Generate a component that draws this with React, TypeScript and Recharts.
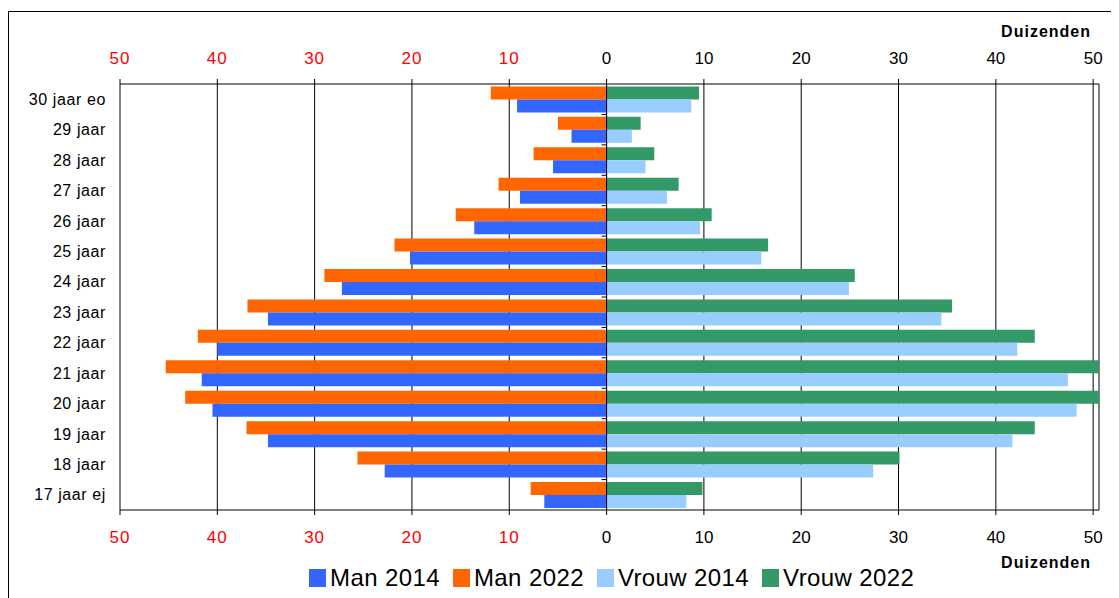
import { BarChart, Bar, XAxis, YAxis, CartesianGrid, ReferenceLine, Legend } from 'recharts';

const ageGroups = ['30 jaar eo', '29 jaar', '28 jaar', '27 jaar', '26 jaar', '25 jaar', '24 jaar', '23 jaar', '22 jaar', '21 jaar', '20 jaar', '19 jaar', '18 jaar', '17 jaar ej'];

// thousands of people per age group
const man2014 = [9.2, 3.6, 5.5, 8.9, 13.6, 20.2, 27.2, 34.8, 40.0, 41.6, 40.5, 34.8, 22.8, 6.4];
const man2022 = [11.9, 5.0, 7.5, 11.1, 15.5, 21.8, 29.0, 36.9, 42.0, 45.3, 43.3, 37.0, 25.6, 7.8];
const vrouw2014 = [8.7, 2.6, 4.0, 6.2, 9.6, 15.9, 24.9, 34.4, 42.2, 47.4, 48.3, 41.7, 27.4, 8.2];
const vrouw2022 = [9.5, 3.5, 4.9, 7.4, 10.8, 16.6, 25.5, 35.5, 44.0, 50.6, 50.6, 44.0, 30.1, 9.85];

const xTicks = [-50, -40, -30, -20, -10, 0, 10, 20, 30, 40, 50];

const COLORS = {
  man2014: '#3366FF',
  man2022: '#FF6600',
  vrouw2014: '#99CCFF',
  vrouw2022: '#339966',
};

const legendItems = [
  { name: 'Man 2014', color: COLORS.man2014 },
  { name: 'Man 2022', color: COLORS.man2022 },
  { name: 'Vrouw 2014', color: COLORS.vrouw2014 },
  { name: 'Vrouw 2022', color: COLORS.vrouw2022 },
];

const FONT = '"Liberation Sans", Arial, sans-serif';

// men go to the left as negative values
const data = ageGroups.map((age, i) => ({
  age,
  man2014: -man2014[i],
  man2022: -man2022[i],
  vrouw2014: vrouw2014[i],
  vrouw2022: vrouw2022[i],
}));

// let the longest bar run past the last tick
const xMax = Math.max(50, ...vrouw2022, ...vrouw2014);

const XTick = ({ x, y, payload, side }: any) => {
  const v = payload.value;
  return (
    <text
      x={x}
      y={y}
      dy={side === 'top' ? 0 : 13}
      textAnchor="middle"
      fontSize={17}
      fontFamily={FONT}
      fill={v < 0 ? '#FF0000' : '#000'}
      letterSpacing={v < 0 ? 1 : 0}
    >
      {Math.abs(v)}
    </text>
  );
};

const Duizenden = ({ viewBox, dy }: any) => (
  <text
    x={viewBox.x + viewBox.width - 8}
    y={viewBox.y + dy}
    textAnchor="end"
    fontSize={16}
    fontWeight="bold"
    letterSpacing={1}
    fontFamily={FONT}
    fill="#000"
  >
    Duizenden
  </text>
);

// vertical axis through zero with small marks between the age groups
const ZeroAxis = ({ x1, y1, x2, y2 }: any) => {
  const step = (y2 - y1) / ageGroups.length;
  return (
    <g>
      <line x1={x1} y1={y1} x2={x2} y2={y2} stroke="#000" strokeWidth={1} />
      {ageGroups.slice(1).map((_, i) => (
        <line key={i} x1={x1 - 5} x2={x1} y1={y1 + (i + 1) * step} y2={y1 + (i + 1) * step} stroke="#000" />
      ))}
    </g>
  );
};

const renderLegend = () => (
  <div style={{ display: 'flex', paddingLeft: 300, fontSize: 24, lineHeight: '26px', letterSpacing: 0.4, fontFamily: FONT, color: '#000' }}>
    {legendItems.map(item => (
      <span key={item.name} style={{ display: 'flex', alignItems: 'center', marginRight: 13 }}>
        <span style={{ display: 'inline-block', width: 17, height: 18, background: item.color, marginRight: 4 }} />
        {item.name}
      </span>
    ))}
  </div>
);

export default function App() {
  return (
    <div style={{ marginTop: 3, width: 1111, height: 587, borderTop: '1px solid #000', borderLeft: '1px solid #000', fontFamily: FONT }}>
      <BarChart
        width={1110}
        height={586}
        data={data}
        layout="vertical"
        stackOffset="sign"
        barGap={0}
        barCategoryGap="8%"
        margin={{ top: 0, right: 20, left: 0, bottom: 7 }}
      >
        <CartesianGrid horizontal={false} stroke="#000" xAxisId="bottom" />
        <XAxis
          xAxisId="top"
          orientation="top"
          type="number"
          domain={[-50, xMax]}
          allowDataOverflow
          ticks={xTicks}
          height={72}
          tickSize={5}
          tickMargin={15}
          stroke="#000"
          tick={<XTick side="top" />}
          label={<Duizenden dy={25} />}
        />
        <XAxis
          xAxisId="bottom"
          orientation="bottom"
          type="number"
          domain={[-50, xMax]}
          ticks={xTicks}
          height={55}
          tickSize={5}
          tickMargin={15}
          stroke="#000"
          tick={<XTick side="bottom" />}
          label={<Duizenden dy={58} />}
        />
        <YAxis
          type="category"
          dataKey="age"
          width={111}
          axisLine={false}
          tickLine={false}
          tickSize={0}
          tickMargin={14}
          tick={{ fontSize: 16, fill: '#000', fontFamily: FONT, letterSpacing: 0.6 }}
        />
        <Bar dataKey="man2022" name="Man 2022" stackId="a" xAxisId="bottom" fill={COLORS.man2022} isAnimationActive={false} />
        <Bar dataKey="vrouw2022" name="Vrouw 2022" stackId="a" xAxisId="bottom" fill={COLORS.vrouw2022} isAnimationActive={false} />
        <Bar dataKey="man2014" name="Man 2014" stackId="b" xAxisId="bottom" fill={COLORS.man2014} isAnimationActive={false} />
        <Bar dataKey="vrouw2014" name="Vrouw 2014" stackId="b" xAxisId="bottom" fill={COLORS.vrouw2014} isAnimationActive={false} />
        <ReferenceLine x={0} xAxisId="bottom" shape={<ZeroAxis />} />
        <Legend verticalAlign="bottom" content={renderLegend} />
      </BarChart>
    </div>
  );
}
